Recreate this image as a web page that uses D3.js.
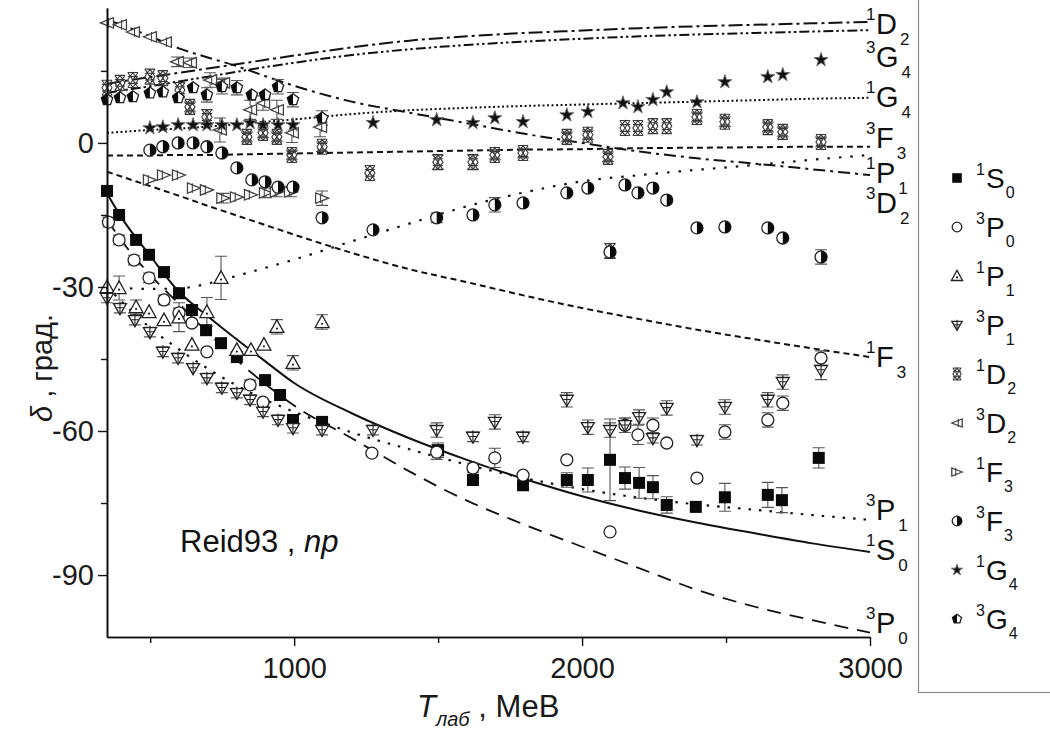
<!DOCTYPE html>
<html lang="ru">
<head>
<meta charset="UTF-8">
<title>Reid93 np phase shifts</title>
<script src="https://d3js.org/d3.v7.min.js"></script>
<style>
  body { margin: 0; background: #fff; }
  svg { font-family: Arial, "Liberation Sans", sans-serif; }
</style>
</head>
<body>
<div id="chart"></div>
<script>
// ---- Reid93 model curves, sampled on one energy grid (MeV -> degrees)
var curveT = [350, 400, 500, 600, 700, 800, 900, 1000, 1200, 1400, 1600, 1800, 2000, 2200, 2400, 2600, 2800, 3000];
var c1D2 = [12.3, 12.8, 13.7, 14.6, 15.5, 16.4, 17.3, 18.2, 19.9, 21.3, 22.2, 22.9, 23.4, 23.9, 24.3, 24.6, 24.9, 25.2];
var c3G4 = [10.4, 10.9, 11.8, 12.8, 13.8, 14.8, 15.8, 16.7, 18.3, 19.5, 20.4, 21.1, 21.7, 22.2, 22.6, 22.9, 23.2, 23.5];
var c1G4 = [2.1, 2.3, 2.7, 3.0, 3.4, 3.9, 4.4, 4.9, 6.0, 6.8, 7.3, 7.7, 8.0, 8.3, 8.6, 8.9, 9.2, 9.4];
var c3F3 = [-2.6, -2.6, -2.6, -2.5, -2.5, -2.4, -2.3, -2.2, -2.0, -1.8, -1.6, -1.4, -1.3, -1.1, -1.0, -0.9, -0.8, -0.8];
var c1P1 = [-30, -30.2, -30.4, -30.3, -29.3, -27.7, -26, -24.3, -20.5, -16.8, -13.2, -10.3, -8, -6.7, -5.6, -4.6, -3.5, -2.5];
var c3D2 = [25.6, 24.6, 22.2, 19.7, 17.8, 16, 13.9, 11.9, 8.6, 6.3, 4.1, 1.9, 0, -1.8, -3.2, -4.3, -5.5, -6.7];
var c1F3 = [-6, -7, -9, -11, -13.1, -15.1, -17.1, -19.1, -22.9, -26.3, -29, -31.8, -34.4, -36.7, -38.9, -40.9, -42.8, -44.6];
var c3P1 = [-30, -33, -38.5, -43, -47, -50.5, -53.5, -56, -60.3, -63.8, -67, -69.8, -72.1, -73.9, -75.3, -76.4, -77.5, -78.5];
var c1S0 = [-10.5, -15.5, -23.5, -31, -36.1, -40.9, -45.5, -50, -56.3, -61.5, -66, -70, -73.6, -76.6, -79.1, -81.3, -83.4, -85.2];
var c3P0 = [-16, -20.3, -27.5, -33.5, -39.5, -45.2, -50.2, -54.7, -61.5, -68.4, -74.5, -79.5, -84.1, -88.6, -93.1, -96.6, -99.4, -102];
var curveSup  = ['1', '3', '1', '3', '1', '3', '1', '3', '1', '3'];
var curveMain = ['D', 'G', 'G', 'F', 'P', 'D', 'F', 'P', 'S', 'P'];
var curveSub  = ['2', '4', '4', '3', '1', '2', '3', '1', '0', '0'];

// ---- phase-shift analysis points: energy, shift, error
var t1S0 = [350, 392, 451, 496, 548, 600, 645, 694, 746, 801, 899, 951, 996, 1097, 1500, 1621, 1795, 1947, 2020, 2097, 2149, 2198, 2246, 2294, 2395, 2496, 2645, 2694, 2822];
var d1S0 = [-10, -15, -20.2, -23.3, -26.9, -31.3, -34.8, -39, -41.7, -44.6, -49.4, -52.5, -57.7, -58.1, -64, -70.2, -71.3, -70.2, -70.2, -66, -69.8, -70.8, -71.7, -75.4, -75.8, -73.8, -73.3, -74.4, -65.6];
var e1S0 = [0, 0, 0, 0, 0, 0, 0, 0, 0, 0, 0, 0, 0, 0, 1.5, 0, 0, 1.5, 2.5, 8.5, 2.3, 3.2, 2.4, 1.7, 0, 2.9, 2.6, 2.6, 2.1];

var t3P0 = [355, 392, 444, 496, 548, 600, 645, 697, 847, 892, 1270, 1495, 1621, 1697, 1795, 1947, 2097, 2149, 2194, 2246, 2294, 2399, 2496, 2645, 2697, 2830];
var d3P0 = [-16.5, -20.2, -24.4, -28.1, -32.7, -35.4, -37.5, -43.5, -50.4, -54, -64.6, -64.4, -67.7, -65.6, -69.2, -66, -81, -58.8, -60.8, -58.8, -62.5, -69.8, -60.2, -57.7, -54.2, -44.8];
var e3P0 = [1, 1, 1, 1, 1, 1, 0, 0, 1, 0, 0, 1.5, 1, 2, 0, 0, 0, 1.5, 2, 1.5, 0, 0, 1.5, 1.5, 1.5, 1.5];

var t1P1 = [350, 392, 451, 496, 548, 600, 645, 697, 746, 801, 850, 895, 940, 996, 1097];
var d1P1 = [-30, -30.2, -34.2, -35.2, -36.9, -36.3, -42, -35.2, -28.1, -43.1, -43.1, -42, -38.3, -45.8, -37.3];
var e1P1 = [0, 2.5, 1.5, 0, 0, 3, 0, 3, 4.5, 0, 0, 0, 1.5, 1.5, 1.5];

var t3P1 = [350, 395, 447, 499, 544, 597, 649, 697, 749, 801, 847, 892, 944, 996, 1097, 1274, 1495, 1621, 1697, 1795, 1947, 2020, 2097, 2149, 2198, 2246, 2294, 2399, 2496, 2645, 2697, 2830];
var d3P1 = [-32.3, -34.4, -36.9, -39.4, -43.5, -44.8, -46.9, -49, -51, -52.1, -53.5, -56, -57.7, -59.4, -59.8, -59.8, -59.8, -61.2, -58.1, -61.2, -53.5, -59.2, -59.8, -58.8, -57.1, -61.5, -55.2, -61.9, -55, -53.5, -49.8, -47.3];
var e3P1 = [1, 1, 1, 1, 1, 1, 0, 1, 1, 1, 1, 1, 1, 1, 1, 1, 1.5, 1, 1.5, 1, 1.5, 1.5, 1.5, 1.5, 1.5, 1, 1.5, 1, 1.5, 1.5, 1.5, 2];

var t1D2 = [350, 395, 440, 499, 544, 603, 638, 697, 836, 892, 940, 992, 1097, 1263, 1499, 1621, 1697, 1795, 1947, 2020, 2090, 2097, 2149, 2194, 2246, 2294, 2399, 2496, 2645, 2697, 2830];
var d1D2 = [11.5, 12.5, 13.1, 13.8, 13.5, 11, 7.5, 5.4, 1.25, 2.1, 1.25, -2.5, -0.8, -6.25, -4, -4, -2.5, -2.1, 1.25, 1.7, -2.9, -22.5, 3.1, 3.1, 3.5, 3.5, 5.4, 4.4, 3.3, 2.3, 0.2];
var e1D2 = [0, 0, 0, 0, 0, 0, 1, 1.5, 1, 1, 1, 1, 1, 0, 1.5, 1.5, 1, 1, 1, 1, 1, 1.5, 0, 0, 0, 0, 1, 1, 1, 1, 1];

var t3D2 = [350, 395, 440, 499, 551, 593, 638, 708, 742, 753, 847, 892, 940, 992, 1090];
var d3D2 = [25, 24.6, 23.1, 22.1, 21, 16.9, 16.7, 13.1, 2.7, 12.5, 6.9, 8.3, 6.9, 2.1, 3.3];
var e3D2 = [0, 0, 0, 0, 0, 1, 1, 1.5, 2.5, 1, 2, 1.5, 2, 2, 2];

var t1F3 = [499, 548, 600, 652, 697, 754, 801, 850, 902, 940, 989, 1097];
var d1F3 = [-7.7, -6.7, -6.7, -9.4, -9.8, -11.5, -11.3, -10.8, -10.4, -10.2, -10.2, -11.5];
var e1F3 = [0, 0, 0, 0, 0, 1, 0, 0, 1, 1, 1, 1.5];

var t3F3 = [499, 544, 597, 649, 697, 749, 801, 853, 899, 944, 996, 1097, 1274, 1495, 1621, 1697, 1795, 1947, 2020, 2097, 2149, 2194, 2246, 2294, 2399, 2496, 2645, 2697, 2830];
var d3F3 = [-1.5, -0.8, 0, 0, -0.8, -2.1, -5.2, -7.7, -8.1, -9.2, -9.2, -15.6, -18.1, -15.6, -15, -12.9, -12.5, -10.4, -9.4, -22.7, -8.75, -10.4, -9.4, -11.9, -17.7, -17.5, -17.7, -19.8, -23.75];
var e3F3 = [0, 0, 0, 0, 0, 0, 0, 0, 0, 0, 0, 0, 0, 1, 0, 1.5, 0, 0, 0, 0, 0, 0, 0, 0, 0, 0, 0, 0, 1.5];

var t1G4 = [499, 544, 597, 649, 697, 749, 801, 847, 892, 944, 996, 1097, 1274, 1495, 1621, 1697, 1795, 1947, 2020, 2142, 2194, 2246, 2294, 2399, 2496, 2645, 2697, 2830];
var d1G4 = [3.1, 3.3, 3.75, 3.75, 3.75, 3.75, 3.75, 4.2, 3.75, 3.75, 3.75, 5.2, 4.2, 4.8, 4.2, 5.2, 4.4, 5.8, 6.5, 8.3, 7.5, 9, 10.6, 8.5, 12.7, 13.75, 14.2, 17.3];
var e1G4 = [0, 0, 0, 0, 0, 0, 0, 0, 0, 0, 0, 0, 0, 0, 0, 0, 0, 0, 0, 0, 0, 0, 0, 0, 0, 0, 0, 0];

var t3G4 = [350, 395, 440, 499, 544, 597, 649, 697, 749, 801, 853, 899, 944, 996, 1097];
var d3G4 = [9, 9.4, 9.6, 10.4, 10.6, 9.4, 11.5, 10, 11.7, 11.5, 10, 10, 11.7, 9, 5.2];
var e3G4 = [0, 0, 0, 0, 0, 0, 0, 1.5, 1.5, 1.5, 0, 0, 1.5, 1.5, 1.5];

var legendSup  = ['1', '3', '1', '3', '1', '3', '1', '3', '1', '3'];
var legendMain = ['S', 'P', 'P', 'P', 'D', 'D', 'F', 'F', 'G', 'G'];
var legendSub  = ['0', '0', '1', '1', '2', '2', '3', '3', '4', '4'];

var xTicks = [1000, 2000, 3000], xMinor = [500, 1500, 2500];
var yTicks = [0, -30, -60, -90], yMinor = [15, -15, -45, -75];

// ---------------------------------------------------------------
var W = 1050, H = 735;
var svg = d3.select("#chart").append("svg").attr("width", W).attr("height", H);

var x = d3.scaleLinear().domain([350, 3000]).range([107, 870]);
var y = d3.scaleLinear().domain([-102.9, 28.1]).range([637, 8]);

var curves = [
    {v: c1D2, dash: "14,4,3,4", w: 2},
    {v: c3G4, dash: "10,3,2.5,3,2.5,3", w: 2},
    {v: c1G4, dash: "2,2.5", w: 2},
    {v: c3F3, dash: "6,4", w: 2},
    {v: c1P1, dash: "2.5,9", w: 2.2},
    {v: c3D2, dash: "12,5,3,5", w: 2},
    {v: c1F3, dash: "6,4", w: 2},
    {v: c3P1, dash: "2.5,8", w: 2.2},
    {v: c1S0, dash: null, w: 2},
    {v: c3P0, dash: "14,9", w: 1.8}
];
var labelY = [34, 67, 107, 148, 183, 213, 367, 520, 560, 633];

var line = d3.line().curve(d3.curveMonotoneX)
    .x(function(d) { return x(d[0]); })
    .y(function(d) { return y(d[1]); });

var gCurves = svg.append("g");
curves.forEach(function(c) {
    gCurves.append("path")
        .attr("d", line(curveT.map(function(t, i) { return [t, c.v[i]]; })))
        .attr("fill", "none")
        .attr("stroke", "#111")
        .attr("stroke-width", c.w)
        .attr("stroke-dasharray", c.dash);
});

// curve labels at the right end
curveMain.forEach(function(m, i) {
    var by = labelY[i];
    svg.append("text").attr("x", 866).attr("y", by - 14).attr("font-size", 17).attr("fill", "#111").text(curveSup[i]);
    var t = svg.append("text").attr("x", 876).attr("y", by).attr("font-size", 29).attr("fill", "#111").text(m);
    var w = t.node().getComputedTextLength();
    svg.append("text").attr("x", 879 + w).attr("y", by + 11).attr("font-size", 17).attr("fill", "#111").text(curveSub[i]);
});

// markers
function marker(g, type, s) {
    var h = s / 2, ink = "#222";
    if (type === "square") {
        g.append("rect").attr("x", -h).attr("y", -h).attr("width", s).attr("height", s).attr("fill", "#0a0a0a");
    } else if (type === "circle") {
        g.append("circle").attr("r", h).attr("fill", "#fff").attr("stroke", ink).attr("stroke-width", 1.3);
    } else if (type === "triUp") {
        g.append("path").attr("d", "M0," + (-h) + "L" + h + "," + (h * 0.8) + "L" + (-h) + "," + (h * 0.8) + "Z")
            .attr("fill", "#fff").attr("stroke", ink).attr("stroke-width", 1.3);
        g.append("circle").attr("cy", h * 0.25).attr("r", 1.1).attr("fill", ink);
    } else if (type === "triDown") {
        g.append("path").attr("d", "M" + (-h) + "," + (-h * 0.7) + "L" + h + "," + (-h * 0.7) + "L0," + h + "Z")
            .attr("fill", "#fff").attr("stroke", ink).attr("stroke-width", 1.3);
        g.append("path").attr("d", "M0," + (-h) + "V" + h + "M" + (-h * 0.55) + "," + (-h * 0.05) + "H" + (h * 0.55))
            .attr("stroke", ink).attr("stroke-width", 1.1);
    } else if (type === "lattice") {
        var a = h * 0.85, b = h * 1.25;
        g.append("path").attr("d", "M" + (-a) + "," + (-b) + "L" + a + "," + b + "M" + a + "," + (-b) + "L" + (-a) + "," + b +
                "M0," + (-b) + "L" + a + ",0L0," + b + "L" + (-a) + ",0Z" +
                "M" + (-a) + "," + (-b) + "H" + a + "M" + (-a) + "," + b + "H" + a +
                "M" + (-a) + "," + (-b * 0.45) + "H" + a + "M" + (-a) + "," + (b * 0.45) + "H" + a)
            .attr("fill", "none").attr("stroke", "#3a3a3a").attr("stroke-width", 1.1);
    } else if (type === "triLeft") {
        g.append("path").attr("d", "M" + (-h) + ",0L" + h + "," + (-h * 0.8) + "L" + h + "," + (h * 0.8) + "Z")
            .attr("fill", "#fff").attr("stroke", "#444").attr("stroke-width", 1.3);
        g.append("path").attr("d", "M" + (h * 0.25) + "," + (-h * 0.75) + "V" + (h * 0.75)).attr("stroke", "#444").attr("stroke-width", 1.1);
    } else if (type === "triRight") {
        g.append("path").attr("d", "M" + h + ",0L" + (-h) + "," + (-h * 0.8) + "L" + (-h) + "," + (h * 0.8) + "Z")
            .attr("fill", "#fff").attr("stroke", "#444").attr("stroke-width", 1.3);
        g.append("path").attr("d", "M" + (-h * 0.25) + "," + (-h * 0.75) + "V" + (h * 0.75)).attr("stroke", "#444").attr("stroke-width", 1.1);
    } else if (type === "halfCircle") {
        g.append("circle").attr("r", h).attr("fill", "#fff").attr("stroke", ink).attr("stroke-width", 1.3);
        g.append("path").attr("d", "M0," + (-h) + "A" + h + "," + h + " 0 0 1 0," + h + "Z").attr("fill", "#0a0a0a");
    } else if (type === "star") {
        g.append("path").attr("d", d3.symbol(d3.symbolStar, s * s * 0.42)()).attr("fill", "#111")
            .attr("stroke", "#666").attr("stroke-width", 0.9);
    } else if (type === "halfPent") {
        var pts = d3.range(5).map(function(k) {
            var ang = -Math.PI / 2 + k * 2 * Math.PI / 5;
            return [h * Math.cos(ang), h * Math.sin(ang)];
        });
        g.append("path").attr("d", "M" + pts.join("L") + "Z").attr("fill", "#fff").attr("stroke", ink).attr("stroke-width", 1.3);
        g.append("path").attr("d", "M0," + (-h) + "L" + pts[4] + "L" + pts[3] + "L0," + pts[3][1] + "Z").attr("fill", "#0a0a0a");
    }
}

var series = [
    {T: t1S0, d: d1S0, e: e1S0, type: "square", s: 12},
    {T: t3P0, d: d3P0, e: e3P0, type: "circle", s: 12},
    {T: t1P1, d: d1P1, e: e1P1, type: "triUp", s: 14},
    {T: t3P1, d: d3P1, e: e3P1, type: "triDown", s: 13},
    {T: t1D2, d: d1D2, e: e1D2, type: "lattice", s: 12},
    {T: t3D2, d: d3D2, e: e3D2, type: "triLeft", s: 13},
    {T: t1F3, d: d1F3, e: e1F3, type: "triRight", s: 13},
    {T: t3F3, d: d3F3, e: e3F3, type: "halfCircle", s: 12},
    {T: t1G4, d: d1G4, e: e1G4, type: "star", s: 12},
    {T: t3G4, d: d3G4, e: e3G4, type: "halfPent", s: 12}
];

var gErr = svg.append("g").attr("stroke", "#555").attr("stroke-width", 1.1);
series.forEach(function(sr) {
    sr.T.forEach(function(t, i) {
        var err = sr.e[i];
        if (!err) return;
        var cx = x(t), y1 = y(sr.d[i] + err), y2 = y(sr.d[i] - err);
        gErr.append("path").attr("d", "M" + cx + "," + y1 + "V" + y2 +
            "M" + (cx - 6) + "," + y1 + "H" + (cx + 6) + "M" + (cx - 6) + "," + y2 + "H" + (cx + 6));
    });
});

var gMarks = svg.append("g");
series.forEach(function(sr) {
    sr.T.forEach(function(t, i) {
        var g = gMarks.append("g").attr("transform", "translate(" + x(t) + "," + y(sr.d[i]) + ")");
        marker(g, sr.type, sr.s);
    });
});

// axes
var axisStyle = function(g) {
    g.selectAll(".domain").attr("stroke", "#111").attr("stroke-width", 1.6);
    g.selectAll(".tick line").attr("stroke", "#111").attr("stroke-width", 1.4);
    g.selectAll("text").attr("font-size", 29).attr("fill", "#1a1a1a")
        .attr("font-family", 'Arial, "Liberation Sans", sans-serif');
};
svg.append("g").attr("transform", "translate(0,637)")
    .call(d3.axisBottom(x).tickValues(xTicks).tickSize(9).tickSizeOuter(0).tickPadding(11).tickFormat(function(d) { return String(d); }))
    .call(axisStyle);
svg.append("g").attr("transform", "translate(0,637)")
    .call(d3.axisBottom(x).tickValues(xMinor).tickSize(6).tickSizeOuter(0).tickFormat(""))
    .call(axisStyle);
svg.append("g").attr("transform", "translate(107,0)")
    .call(d3.axisLeft(y).tickValues(yTicks).tickSize(9).tickSizeOuter(0).tickPadding(4).tickFormat(function(d) { return String(d); }))
    .call(axisStyle);
svg.append("g").attr("transform", "translate(107,0)")
    .call(d3.axisLeft(y).tickValues(yMinor).tickSize(6).tickSizeOuter(0).tickFormat(""))
    .call(axisStyle);

// axis titles
var xt = svg.append("text").attr("x", 417).attr("y", 717).attr("font-size", 31).attr("fill", "#1a1a1a");
xt.append("tspan").attr("font-style", "italic").text("T");
xt.append("tspan").attr("font-style", "italic").attr("font-size", 20).attr("dy", 9).text("лаб");
xt.append("tspan").attr("dy", -9).text(" , МеВ");

var yt = svg.append("text").attr("transform", "translate(52,368) rotate(-90)")
    .attr("text-anchor", "middle").attr("font-size", 29).attr("fill", "#1a1a1a");
yt.append("tspan").attr("font-style", "italic").text("δ");
yt.append("tspan").text(" , град.");

var rt = svg.append("text").attr("x", 180).attr("y", 552).attr("font-size", 31).attr("fill", "#111");
rt.append("tspan").text("Reid93 , ");
rt.append("tspan").attr("font-style", "italic").text("np");

// legend box
svg.append("rect").attr("x", 918.5).attr("y", -2).attr("width", 140).attr("height", 694.5)
    .attr("fill", "none").attr("stroke", "#888").attr("stroke-width", 1.2);
legendMain.forEach(function(m, i) {
    var cy = 178 + i * 49;
    var g = svg.append("g").attr("transform", "translate(957," + cy + ")");
    marker(g, series[i].type, series[i].s * 0.8);
    svg.append("text").attr("x", 976).attr("y", cy - 3).attr("font-size", 16).attr("fill", "#111").text(legendSup[i]);
    var t = svg.append("text").attr("x", 986).attr("y", cy + 10).attr("font-size", 28).attr("fill", "#111").text(m);
    var w = t.node().getComputedTextLength();
    svg.append("text").attr("x", 987 + w).attr("y", cy + 20).attr("font-size", 16).attr("fill", "#111").text(legendSub[i]);
});
</script>
</body>
</html>
